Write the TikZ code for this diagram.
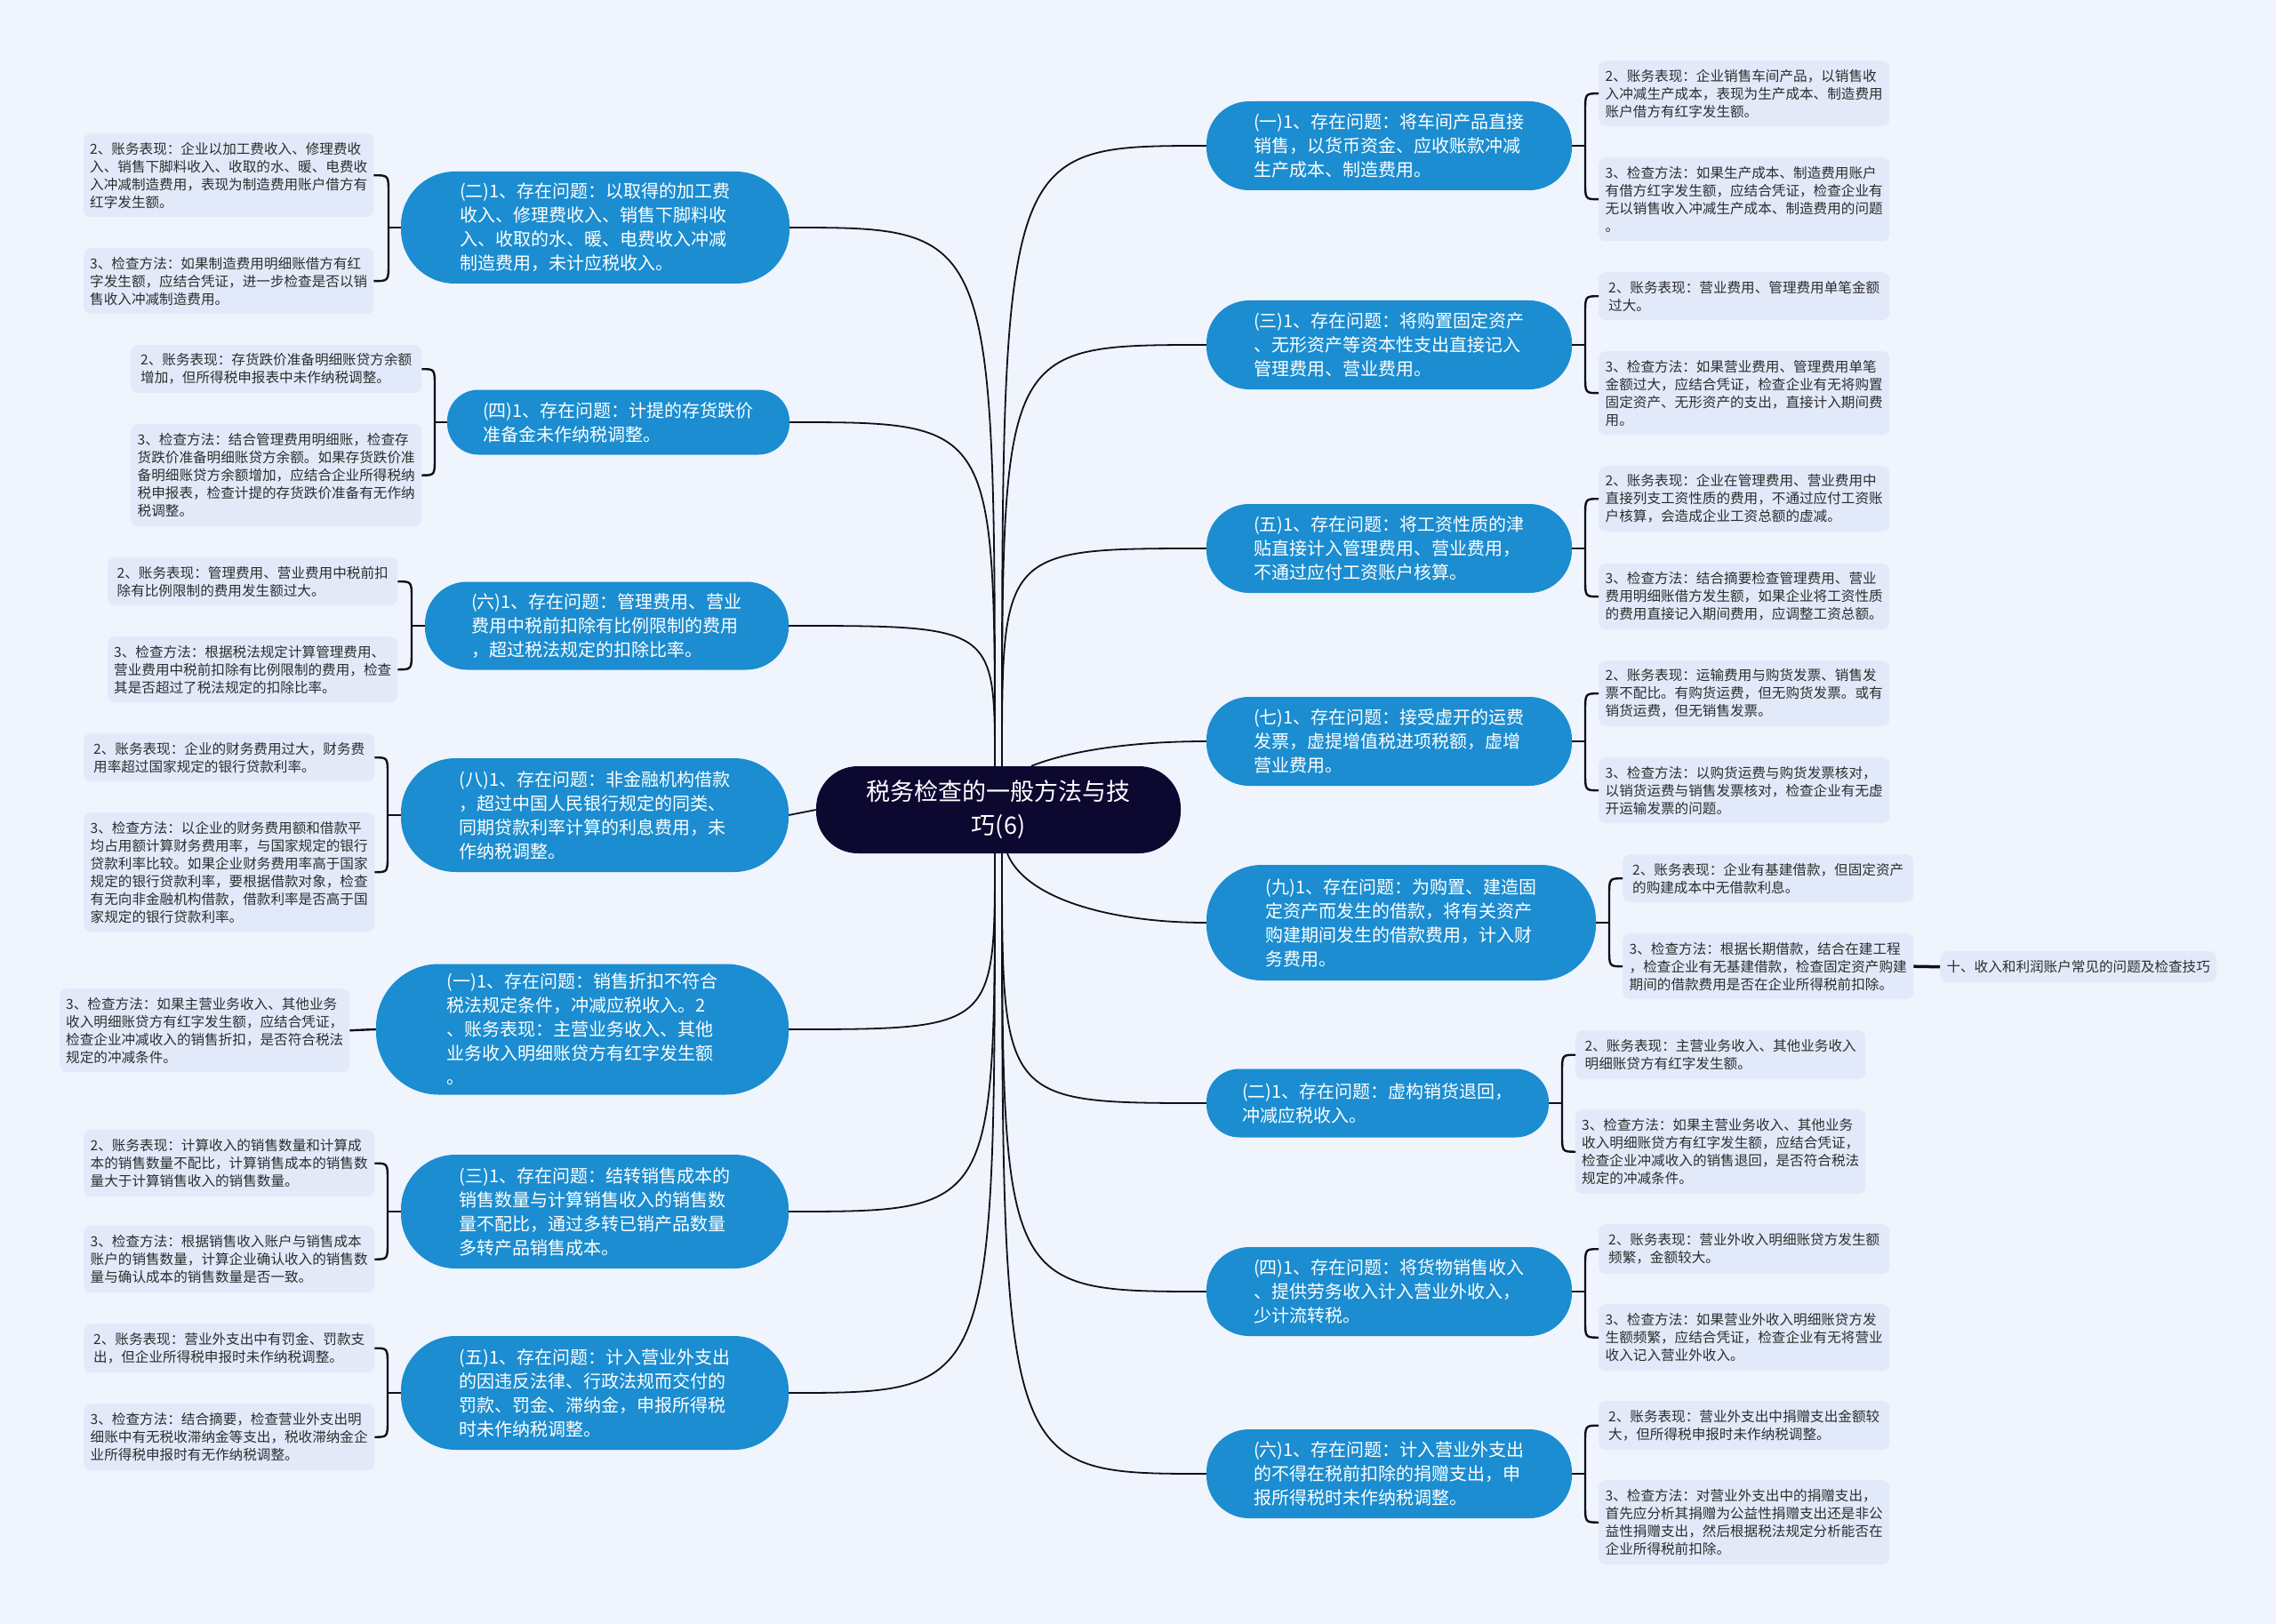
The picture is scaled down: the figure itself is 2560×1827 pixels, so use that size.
\documentclass[tikz,border=0pt]{standalone}
\usepackage{fontspec}
\setmainfont{Noto Sans CJK SC}
\usetikzlibrary{calc}
\definecolor{bgc}{RGB}{239,244,253}
\definecolor{leafc}{RGB}{226,234,250}
\definecolor{nodeblue}{RGB}{27,141,208}
\definecolor{rootc}{RGB}{12,8,48}
\definecolor{linec}{RGB}{15,15,25}
\definecolor{leaftext}{RGB}{45,45,45}
\tikzset{
  leaf/.style={fill=leafc, rounded corners=8pt, text=leaftext, font=\fontsize{15.6}{20}\selectfont, align=left, inner sep=0pt, anchor=north west},
  bluen/.style={fill=nodeblue, text=white, font=\fontsize{20}{27}\selectfont, align=left, inner sep=0pt, minimum height=#1, rounded corners={#1*0.48}},
  rootn/.style={fill=rootc, text=white, font=\fontsize{27}{38}\selectfont, align=center, inner sep=0pt, minimum width=410, minimum height=98, rounded corners=47pt},
  conn/.style={draw=linec, line width=1.8pt},
  brk/.style={draw=linec, line width=2.4pt},
}
% right bracket: parent, leafA, leafB, x of bracket
\newcommand\rbr[4]{%
  \draw[brk] (#2.west) .. controls (#4,0 |- #2.west) .. ($(#4,0 |- #2.west)+(0,20)$) -- ($(#4,0 |- #3.west)+(0,-20)$) .. controls (#4,0 |- #3.west) .. (#3.west);
  \draw[brk] (#1.east) -- (#4,0 |- #1.east);
}
% left bracket
\newcommand\lbr[4]{%
  \draw[brk] (#2.east) .. controls (#4,0 |- #2.east) .. ($(#4,0 |- #2.east)+(0,20)$) -- ($(#4,0 |- #3.east)+(0,-20)$) .. controls (#4,0 |- #3.east) .. (#3.east);
  \draw[brk] (#1.west) -- (#4,0 |- #1.west);
}
\begin{document}
\begin{tikzpicture}[x=1pt,y=-1pt]
\fill[bgc] (0,0) rectangle (2560,1827);
\useasboundingbox (0,0) rectangle (2560,1827);

% root
\node[rootn] (root) at (1123,911) {税务检查的一般方法与技\\巧(6)};

% right blue nodes
\node[bluen=100, minimum width=411] (R1) at (1562.5,164) {(一)1、存在问题：将车间产品直接\\销售，以货币资金、应收账款冲减\\生产成本、制造费用。};
\node[bluen=100, minimum width=411] (R2) at (1562.5,388) {(三)1、存在问题：将购置固定资产\\、无形资产等资本性支出直接记入\\管理费用、营业费用。};
\node[bluen=100, minimum width=411] (R3) at (1562.5,617) {(五)1、存在问题：将工资性质的津\\贴直接计入管理费用、营业费用，\\不通过应付工资账户核算。};
\node[bluen=100, minimum width=411] (R4) at (1562.5,834) {(七)1、存在问题：接受虚开的运费\\发票，虚提增值税进项税额，虚增\\营业费用。};
\node[bluen=130, minimum width=438] (R5) at (1576,1038) {(九)1、存在问题：为购置、建造固\\定资产而发生的借款，将有关资产\\购建期间发生的借款费用，计入财\\务费用。};
\node[bluen=77, minimum width=385] (R6) at (1549.5,1241) {(二)1、存在问题：虚构销货退回，\\冲减应税收入。};
\node[bluen=100, minimum width=411] (R7) at (1562.5,1453) {(四)1、存在问题：将货物销售收入\\、提供劳务收入计入营业外收入，\\少计流转税。};
\node[bluen=100, minimum width=411] (R8) at (1562.5,1658) {(六)1、存在问题：计入营业外支出\\的不得在税前扣除的捐赠支出，申\\报所得税时未作纳税调整。};

% left blue nodes
\node[bluen=126, minimum width=437] (L1) at (669.5,256) {(二)1、存在问题：以取得的加工费\\收入、修理费收入、销售下脚料收\\入、收取的水、暖、电费收入冲减\\制造费用，未计应税收入。};
\node[bluen=73, minimum width=385] (L2) at (695.5,475) {(四)1、存在问题：计提的存货跌价\\准备金未作纳税调整。};
\node[bluen=99, minimum width=409] (L3) at (682.5,704) {(六)1、存在问题：管理费用、营业\\费用中税前扣除有比例限制的费用\\，超过税法规定的扣除比率。};
\node[bluen=128, minimum width=436] (L4) at (669,917) {(八)1、存在问题：非金融机构借款\\，超过中国人民银行规定的同类、\\同期贷款利率计算的利息费用，未\\作纳税调整。};
\node[bluen=147, minimum width=464] (L5) at (655,1158) {(一)1、存在问题：销售折扣不符合\\税法规定条件，冲减应税收入。2\\、账务表现：主营业务收入、其他\\业务收入明细账贷方有红字发生额\\。};
\node[bluen=128, minimum width=436] (L6) at (669,1363) {(三)1、存在问题：结转销售成本的\\销售数量与计算销售收入的销售数\\量不配比，通过多转已销产品数量\\多转产品销售成本。};
\node[bluen=128, minimum width=436] (L7) at (669,1567) {(五)1、存在问题：计入营业外支出\\的因违反法律、行政法规而交付的\\罚款、罚金、滞纳金，申报所得税\\时未作纳税调整。};

% right leaves
\node[leaf, minimum width=327, minimum height=74] (R1a) at (1798,68) {2、账务表现：企业销售车间产品，以销售收\\入冲减生产成本，表现为生产成本、制造费用\\账户借方有红字发生额。};
\node[leaf, minimum width=327, minimum height=94] (R1b) at (1798,177) {3、检查方法：如果生产成本、制造费用账户\\有借方红字发生额，应结合凭证，检查企业有\\无以销售收入冲减生产成本、制造费用的问题\\。};
\node[leaf, minimum width=327, minimum height=54] (R2a) at (1798,306) {2、账务表现：营业费用、管理费用单笔金额\\过大。};
\node[leaf, minimum width=327, minimum height=94] (R2b) at (1798,395) {3、检查方法：如果营业费用、管理费用单笔\\金额过大，应结合凭证，检查企业有无将购置\\固定资产、无形资产的支出，直接计入期间费\\用。};
\node[leaf, minimum width=327, minimum height=74] (R3a) at (1798,524) {2、账务表现：企业在管理费用、营业费用中\\直接列支工资性质的费用，不通过应付工资账\\户核算，会造成企业工资总额的虚减。};
\node[leaf, minimum width=327, minimum height=74] (R3b) at (1798,634) {3、检查方法：结合摘要检查管理费用、营业\\费用明细账借方发生额，如果企业将工资性质\\的费用直接记入期间费用，应调整工资总额。};
\node[leaf, minimum width=327, minimum height=74] (R4a) at (1798,743) {2、账务表现：运输费用与购货发票、销售发\\票不配比。有购货运费，但无购货发票。或有\\销货运费，但无销售发票。};
\node[leaf, minimum width=327, minimum height=74] (R4b) at (1798,852) {3、检查方法：以购货运费与购货发票核对，\\以销货运费与销售发票核对，检查企业有无虚\\开运输发票的问题。};
\node[leaf, minimum width=327, minimum height=54] (R5a) at (1825,961) {2、账务表现：企业有基建借款，但固定资产\\的购建成本中无借款利息。};
\node[leaf, minimum width=327, minimum height=74] (R5b) at (1825,1050) {3、检查方法：根据长期借款，结合在建工程\\，检查企业有无基建借款，检查固定资产购建\\期间的借款费用是否在企业所得税前扣除。};
\node[leaf, minimum width=311, minimum height=35] (ten) at (2182,1070) {十、收入和利润账户常见的问题及检查技巧};
\node[leaf, minimum width=326, minimum height=55] (R6a) at (1772,1159) {2、账务表现：主营业务收入、其他业务收入\\明细账贷方有红字发生额。};
\node[leaf, minimum width=326, minimum height=95] (R6b) at (1772,1248) {3、检查方法：如果主营业务收入、其他业务\\收入明细账贷方有红字发生额，应结合凭证，\\检查企业冲减收入的销售退回，是否符合税法\\规定的冲减条件。};
\node[leaf, minimum width=327, minimum height=56] (R7a) at (1798,1377) {2、账务表现：营业外收入明细账贷方发生额\\频繁，金额较大。};
\node[leaf, minimum width=327, minimum height=75] (R7b) at (1798,1467) {3、检查方法：如果营业外收入明细账贷方发\\生额频繁，应结合凭证，检查企业有无将营业\\收入记入营业外收入。};
\node[leaf, minimum width=327, minimum height=55] (R8a) at (1798,1576) {2、账务表现：营业外支出中捐赠支出金额较\\大，但所得税申报时未作纳税调整。};
\node[leaf, minimum width=327, minimum height=95] (R8b) at (1798,1665) {3、检查方法：对营业外支出中的捐赠支出，\\首先应分析其捐赠为公益性捐赠支出还是非公\\益性捐赠支出，然后根据税法规定分析能否在\\企业所得税前扣除。};

% left leaves
\node[leaf, minimum width=326, minimum height=94] (L1a) at (94,150) {2、账务表现：企业以加工费收入、修理费收\\入、销售下脚料收入、收取的水、暖、电费收\\入冲减制造费用，表现为制造费用账户借方有\\红字发生额。};
\node[leaf, minimum width=326, minimum height=74] (L1b) at (94,279) {3、检查方法：如果制造费用明细账借方有红\\字发生额，应结合凭证，进一步检查是否以销\\售收入冲减制造费用。};
\node[leaf, minimum width=327, minimum height=54] (L2a) at (147,388) {2、账务表现：存货跌价准备明细账贷方余额\\增加，但所得税申报表中未作纳税调整。};
\node[leaf, minimum width=327, minimum height=115] (L2b) at (147,477) {3、检查方法：结合管理费用明细账，检查存\\货跌价准备明细账贷方余额。如果存货跌价准\\备明细账贷方余额增加，应结合企业所得税纳\\税申报表，检查计提的存货跌价准备有无作纳\\税调整。};
\node[leaf, minimum width=326, minimum height=54] (L3a) at (121,627) {2、账务表现：管理费用、营业费用中税前扣\\除有比例限制的费用发生额过大。};
\node[leaf, minimum width=326, minimum height=74] (L3b) at (121,716) {3、检查方法：根据税法规定计算管理费用、\\营业费用中税前扣除有比例限制的费用，检查\\其是否超过了税法规定的扣除比率。};
\node[leaf, minimum width=327, minimum height=54] (L4a) at (94,825) {2、账务表现：企业的财务费用过大，财务费\\用率超过国家规定的银行贷款利率。};
\node[leaf, minimum width=327, minimum height=134] (L4b) at (94,914) {3、检查方法：以企业的财务费用额和借款平\\均占用额计算财务费用率，与国家规定的银行\\贷款利率比较。如果企业财务费用率高于国家\\规定的银行贷款利率，要根据借款对象，检查\\有无向非金融机构借款，借款利率是否高于国\\家规定的银行贷款利率。};
\node[leaf, minimum width=326, minimum height=94] (L5a) at (67,1112) {3、检查方法：如果主营业务收入、其他业务\\收入明细账贷方有红字发生额，应结合凭证，\\检查企业冲减收入的销售折扣，是否符合税法\\规定的冲减条件。};
\node[leaf, minimum width=327, minimum height=75] (L6a) at (94,1271) {2、账务表现：计算收入的销售数量和计算成\\本的销售数量不配比，计算销售成本的销售数\\量大于计算销售收入的销售数量。};
\node[leaf, minimum width=327, minimum height=75] (L6b) at (94,1379) {3、检查方法：根据销售收入账户与销售成本\\账户的销售数量，计算企业确认收入的销售数\\量与确认成本的销售数量是否一致。};
\node[leaf, minimum width=327, minimum height=55] (L7a) at (94,1489) {2、账务表现：营业外支出中有罚金、罚款支\\出，但企业所得税申报时未作纳税调整。};
\node[leaf, minimum width=327, minimum height=75] (L7b) at (94,1579) {3、检查方法：结合摘要，检查营业外支出明\\细账中有无税收滞纳金等支出，税收滞纳金企\\业所得税申报时有无作纳税调整。};

% root connectors
\coordinate (tl) at ($(root.north)+(-4,0)$);
\coordinate (tr) at ($(root.north)+(4,0)$);
\coordinate (bl) at ($(root.south)+(-4,0)$);
\coordinate (br) at ($(root.south)+(4,0)$);
\coordinate (t4) at ($(root.north)+(37,0)$);
\coordinate (b5) at ($(root.south)+(10,0)$);
\foreach \n in {L1,L2,L3}{\draw[conn] (tl) .. controls (tl |- \n.east) .. (\n.east);}
\foreach \n in {L5,L6,L7}{\draw[conn] (bl) .. controls (bl |- \n.east) .. (\n.east);}
\foreach \n in {R1,R2,R3}{\draw[conn] (tr) .. controls (tr |- \n.west) .. (\n.west);}
\foreach \n in {R6,R7,R8}{\draw[conn] (br) .. controls (br |- \n.west) .. (\n.west);}
\draw[conn] (root.west) -- (L4.east);
\draw[conn] (t4) .. controls ($(t4)+(45,-18)$) and ($(R4.west)+(-80,0)$) .. (R4.west);
\draw[conn] (b5) .. controls ($(b5)+(20,50)$) and ($(R5.west)+(-110,0)$) .. (R5.west);

% brackets
\rbr{R1}{R1a}{R1b}{1783}
\rbr{R2}{R2a}{R2b}{1783}
\rbr{R3}{R3a}{R3b}{1783}
\rbr{R4}{R4a}{R4b}{1783}
\rbr{R5}{R5a}{R5b}{1810}
\rbr{R6}{R6a}{R6b}{1757}
\rbr{R7}{R7a}{R7b}{1783}
\rbr{R8}{R8a}{R8b}{1783}
\lbr{L1}{L1a}{L1b}{437}
\lbr{L2}{L2a}{L2b}{489}
\lbr{L3}{L3a}{L3b}{463}
\lbr{L4}{L4a}{L4b}{436}
\lbr{L6}{L6a}{L6b}{436}
\lbr{L7}{L7a}{L7b}{436}
\draw[brk] (L5.west) -- (L5a.east);
\draw[draw=linec, line width=3.5pt] (R5b.east) -- (ten.west);
\end{tikzpicture}
\end{document}
